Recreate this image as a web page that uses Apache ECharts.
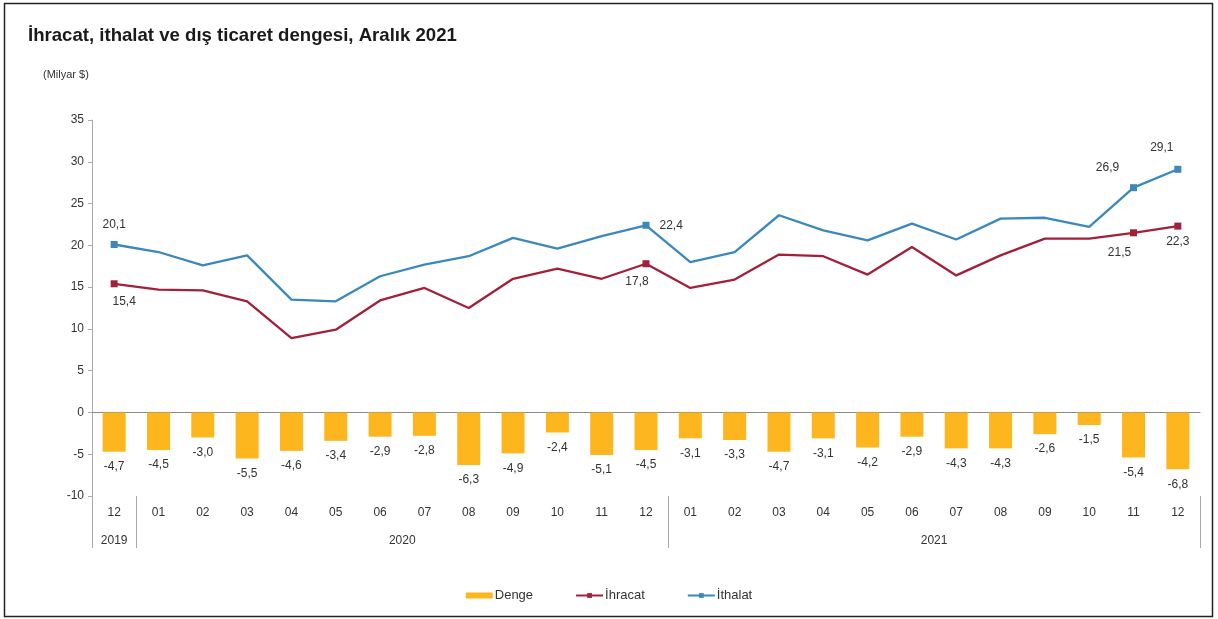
<!DOCTYPE html>
<html>
<head>
<meta charset="utf-8">
<script src="https://cdn.jsdelivr.net/npm/echarts@6/dist/echarts.min.js"></script>
<style>
  html, body { margin: 0; padding: 0; background: #fff; }
  #chart { width: 1218px; height: 619px; }
</style>
</head>
<body>
<div id="chart"></div>
<script>
// ay etiketleri (12/2019 - 12/2021)
const months = ['12', '01', '02', '03', '04', '05', '06', '07', '08', '09', '10', '11', '12',
    '01', '02', '03', '04', '05', '06', '07', '08', '09', '10', '11', '12'];
const years = ['2019', '2020', '2021'];
const yearCenters = [0, 6.5, 18.5];
const yearBounds = [-0.5, 0.5, 12.5, 24.5];

// Milyar $
const denge = [-4.7, -4.5, -3.0, -5.5, -4.6, -3.4, -2.9, -2.8, -6.3, -4.9, -2.4, -5.1, -4.5,
    -3.1, -3.3, -4.7, -3.1, -4.2, -2.9, -4.3, -4.3, -2.6, -1.5, -5.4, -6.8];
const ihracat = [15.4, 14.7, 14.6, 13.3, 8.9, 9.9, 13.4, 14.9, 12.5, 16.0, 17.2, 16.0, 17.8,
    14.9, 15.9, 18.9, 18.7, 16.5, 19.8, 16.4, 18.8, 20.8, 20.8, 21.5, 22.3];
const ithalat = [20.1, 19.2, 17.6, 18.8, 13.5, 13.3, 16.3, 17.7, 18.7, 20.9, 19.6, 21.1, 22.4,
    18.0, 19.2, 23.6, 21.8, 20.6, 22.6, 20.7, 23.2, 23.3, 22.2, 26.9, 29.1];

// etiket gösterilen noktalar
const labeled = [0, 12, 23, 24];

const fmt = v => v.toFixed(1).replace('.', ',');
const FONT = 'Liberation Sans';
const TXT = '#333';

// etiket yerleşimleri
const ihracatLabelPos = {
    0: { position: 'bottom', offset: [10, 0] },
    12: { position: 'bottom', offset: [-9, 0] },
    23: { position: 'bottom', offset: [-14, 2] },
    24: { position: 'bottom', offset: [0, -2] }
};
const ithalatLabelPos = {
    0: { position: 'top', offset: [0, -2] },
    12: { position: 'right', offset: [2, 0] },
    23: { position: 'top', offset: [-26, -2] },
    24: { position: 'top', offset: [-16, -4] }
};

function lineData(values, posMap) {
    return values.map((v, i) => {
        if (labeled.indexOf(i) < 0) {
            return { value: v, symbol: 'none' };
        }
        return {
            value: v,
            label: Object.assign({ show: true, distance: 8 }, posMap[i])
        };
    });
}

const chart = echarts.init(document.getElementById('chart'));
chart.setOption({
    animation: false,
    textStyle: { fontFamily: FONT },
    title: {
        text: 'İhracat, ithalat ve dış ticaret dengesi, Aralık 2021',
        left: 23,
        top: 21,
        textStyle: { fontSize: 18.6, fontWeight: 'bold', color: '#1a1a1a', fontFamily: FONT }
    },
    graphic: [
        {
            type: 'rect',
            shape: { x: 4.5, y: 3.5, width: 1208, height: 613 },
            style: { fill: 'none', stroke: '#222', lineWidth: 1.5 },
            silent: true
        },
        {
            type: 'text',
            left: 43,
            top: 69,
            style: { text: '(Milyar $)', fontSize: 11, fill: TXT, fontFamily: FONT }
        }
    ],
    legend: {
        bottom: 12,
        left: 'center',
        itemGap: 42,
        itemWidth: 27,
        itemHeight: 6,
        textStyle: { fontSize: 13, color: TXT, fontFamily: FONT, padding: [0, 0, 0, -3] },
        data: [
            { name: 'Denge', icon: 'rect' },
            { name: 'İhracat' },
            { name: 'İthalat' }
        ]
    },
    grid: { left: 92, right: 18, top: 120, bottom: 123 },
    xAxis: [
        {
            type: 'category',
            data: months,
            position: 'bottom',
            axisLine: { onZero: true, lineStyle: { color: '#8a8a8a', width: 1 } },
            axisTick: { show: false },
            axisLabel: { show: false }
        },
        {
            type: 'category',
            data: months,
            position: 'bottom',
            axisLine: { show: false, onZero: false },
            axisTick: { show: false },
            axisLabel: { margin: 11, fontSize: 12, color: TXT, interval: 0 }
        },
        {
            type: 'value',
            min: -0.5,
            max: 24.5,
            position: 'bottom',
            splitLine: { show: false },
            axisLine: { show: false, onZero: false },
            axisTick: {
                show: true,
                customValues: yearBounds,
                length: 52,
                lineStyle: { color: '#aaa' }
            },
            axisLabel: {
                customValues: yearCenters,
                margin: 39,
                fontSize: 12,
                color: TXT,
                formatter: v => years[yearCenters.indexOf(v)] || ''
            }
        }
    ],
    yAxis: {
        type: 'value',
        min: -10,
        max: 35,
        interval: 5,
        splitLine: { show: false },
        axisLine: { show: true, onZero: false, lineStyle: { color: '#aaa' } },
        axisTick: { show: true, length: 4, lineStyle: { color: '#aaa' } },
        axisLabel: { fontSize: 12, color: TXT, margin: 8 }
    },
    series: [
        {
            name: 'Denge',
            type: 'bar',
            xAxisIndex: 0,
            data: denge,
            barWidth: 23,
            itemStyle: { color: '#FDB61E' },
            label: {
                show: true,
                position: 'outside',
                distance: 9,
                fontSize: 12,
                color: TXT,
                formatter: p => fmt(p.value)
            }
        },
        {
            name: 'İhracat',
            type: 'line',
            xAxisIndex: 0,
            symbol: 'rect',
            symbolSize: 7,
            data: lineData(ihracat, ihracatLabelPos),
            lineStyle: { color: '#A3203A', width: 2.3 },
            itemStyle: { color: '#A3203A' },
            label: { fontSize: 12, color: TXT, formatter: p => fmt(p.value) }
        },
        {
            name: 'İthalat',
            type: 'line',
            xAxisIndex: 0,
            symbol: 'rect',
            symbolSize: 7,
            data: lineData(ithalat, ithalatLabelPos),
            lineStyle: { color: '#3A88BC', width: 2.3 },
            itemStyle: { color: '#3A88BC' },
            label: { fontSize: 12, color: TXT, formatter: p => fmt(p.value) }
        }
    ]
});
</script>
</body>
</html>
